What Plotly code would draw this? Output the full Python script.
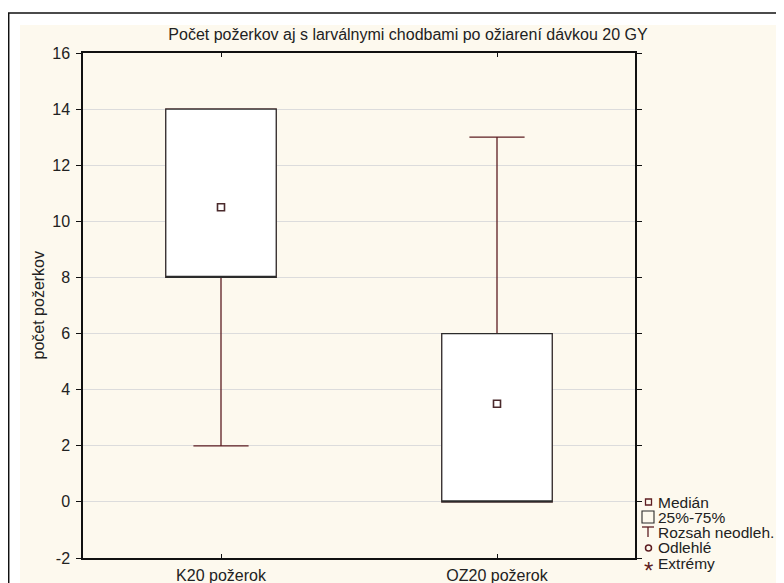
import plotly.graph_objects as go

# data (Statistica-style box plot)
categories = ["K20 požerok", "OZ20 požerok"]
medians = [10.5, 3.5]
q1 = [8, 0]
q3 = [14, 6]
mins = [2, 0]
maxs = [14, 13]

ytick_vals = [-2, 0, 2, 4, 6, 8, 10, 12, 14, 16]
ytick_text = ["-2", "0", "2", "4", "6", "8", "10", "12", "14", "16"]

legend_labels = ["Medián", "25%-75%", "Rozsah neodleh.", "Odlehlé", "Extrémy"]

title = "Počet požerkov aj s larválnymi chodbami po ožiarení dávkou 20 GY"
ytitle = "počet požerkov"

FONT = "Liberation Sans, Arial, sans-serif"
MAROON = "#5e1e22"
BOXLINE = "#2b2b2b"
CREAM = "#fdf9ee"

# the page body has an 8px margin, so the figure starts at (8, 8) on screen
OFF = 8
W, H = 784 - OFF, 583 - OFF
L, R, T, B = 83, 635, 53, 558  # plot area in screen pixels


def px(x):
    return (x - L) / (R - L)


def py(y):
    return (B - y) / (B - T)


fig = go.Figure()

# whiskers (box drawn with median on q1 so no extra line shows)
fig.add_trace(go.Box(
    x=categories, q1=q1, median=q1, q3=q3,
    lowerfence=mins, upperfence=maxs,
    width=0.4, whiskerwidth=0.5,
    line=dict(color=MAROON, width=1.3),
    fillcolor="rgba(0,0,0,0)",
    hoverinfo="skip",
))
# 25%-75% boxes
fig.add_trace(go.Box(
    x=categories, q1=q1, median=q1, q3=q3,
    lowerfence=q1, upperfence=q3,
    width=0.4, whiskerwidth=0,
    line=dict(color=BOXLINE, width=1.2),
    fillcolor="white",
    hoverinfo="skip",
))
# median markers
fig.add_trace(go.Scatter(
    x=categories, y=medians, mode="markers",
    marker=dict(symbol="square-open", size=7, color="#4a2a2c",
                line=dict(width=1.6, color="#4a2a2c")),
    hoverinfo="skip",
))

shapes = [
    dict(type="rect", xref="paper", yref="paper", layer="below",
         x0=px(20), x1=px(800), y0=py(620), y1=py(25),
         fillcolor=CREAM, line=dict(width=0)),
    dict(type="rect", xref="paper", yref="paper", layer="below",
         x0=px(8.7), x1=px(800), y0=py(620), y1=py(13),
         line=dict(color="#111111", width=1.5)),
    # legend glyphs
    dict(type="rect", xref="paper", yref="paper",
         x0=px(645.5), x1=px(651.5), y0=py(505), y1=py(499),
         line=dict(color=MAROON, width=1.3)),
    dict(type="rect", xref="paper", yref="paper",
         x0=px(642), x1=px(654), y0=py(523), y1=py(511),
         line=dict(color=BOXLINE, width=1.1)),
    dict(type="line", xref="paper", yref="paper",
         x0=px(642), x1=px(654), y0=py(527), y1=py(527),
         line=dict(color=MAROON, width=1.3)),
    dict(type="line", xref="paper", yref="paper",
         x0=px(648), x1=px(648), y0=py(527), y1=py(537),
         line=dict(color=MAROON, width=1.3)),
    dict(type="circle", xref="paper", yref="paper",
         x0=px(645.5), x1=px(651.5), y0=py(551), y1=py(545),
         line=dict(color=MAROON, width=1.5)),
]

annotations = [
    dict(text=ytitle, textangle=-90, xref="paper", yref="paper",
         x=px(38), y=0.5, xanchor="center", yanchor="middle",
         showarrow=False, font=dict(family=FONT, size=16, color="#222222")),
    dict(text="*", xref="paper", yref="paper", x=px(648), y=py(570),
         xanchor="center", yanchor="middle", showarrow=False,
         font=dict(family=FONT, size=24, color=MAROON)),
]
legend_y = [502, 517, 532, 547.5, 563]
for lab, ly in zip(legend_labels, legend_y):
    annotations.append(dict(
        text=lab, xref="paper", yref="paper", x=px(656), y=py(ly),
        xanchor="left", yanchor="middle", showarrow=False,
        font=dict(family=FONT, size=15.5, color="#222222"),
    ))

fig.update_layout(
    width=W, height=H,
    margin=dict(l=L - OFF, r=W - (R - OFF), t=T - OFF, b=H - (B - OFF),
                autoexpand=False),
    paper_bgcolor="white",
    plot_bgcolor="white",
    showlegend=False,
    boxmode="overlay",
    font=dict(family=FONT, size=16, color="#222222"),
    title=dict(text=title, x=px(408), xref="paper", xanchor="center",
               y=1 - (34 - OFF) / H, yref="container", yanchor="middle",
               font=dict(family=FONT, size=16, color="#222222")),
    shapes=shapes,
    annotations=annotations,
)
fig.update_xaxes(
    type="category", range=[-0.5, 1.5], automargin=False,
    showline=True, linecolor="#111111", linewidth=1.5, mirror="ticks",
    ticks="inside", ticklen=4, tickcolor="#111111",
    showgrid=False, zeroline=False, ticklabelstandoff=2,
)
fig.update_yaxes(
    range=[-2, 16], tickvals=ytick_vals, ticktext=ytick_text,
    automargin=False,
    showline=True, linecolor="#111111", linewidth=1.5, mirror="ticks",
    ticks="outside", ticklen=5, tickcolor="#111111",
    showgrid=True, gridcolor="#dcdcdc", gridwidth=1,
    zeroline=False, ticklabelstandoff=3,
)

fig.write_html("out.html")
